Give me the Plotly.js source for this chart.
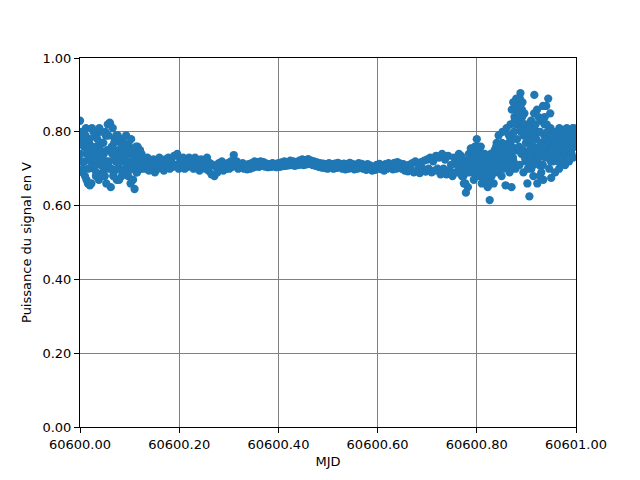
<!DOCTYPE html>
<html>
<head>
<meta charset="utf-8">
<script src="https://cdn.plot.ly/plotly-3.0.1.min.js"></script>
<style>html,body{margin:0;padding:0;background:#fff;}#chart{width:640px;height:480px;}</style>
</head>
<body>
<div id="chart"></div>
<script>
// Segment sampling grids (MJD start, step) and read-off signal power values (V)
const segLeftStart = 60600.000, segLeftStep = 0.002;
const segLeftValues = [0.83,0.72,0.78,0.70,0.76,0.68,0.81,0.74,0.66,0.77,0.655,0.72,0.81,0.75,0.70,0.79,0.68,0.76,0.73,0.67,0.80,0.71,0.77,0.69,0.74,0.68,0.79,0.72,0.82,0.70,0.825,0.65,0.76,0.81,0.69,0.78,0.72,0.67,0.79,0.74,0.70,0.77,0.68,0.75,0.72,0.76,0.70,0.74,0.69,0.765,0.71,0.66,0.74,0.70,0.75,0.645,0.73,0.69,0.76,0.71,0.73,0.70,0.74,0.71,0.72];
const segLeft2Start = 60600.001, segLeft2Step = 0.002;
const segLeft2Values = [0.74,0.80,0.69,0.77,0.72,0.79,0.67,0.75,0.70,0.78,0.73,0.66,0.76,0.80,0.71,0.74,0.69,0.78,0.72,0.81,0.75,0.68,0.73,0.77,0.71,0.80,0.66,0.75,0.79,0.72,0.82,0.70,0.74,0.68,0.77,0.73,0.79,0.70,0.75,0.67,0.78,0.72,0.74,0.69,0.77,0.73,0.79,0.71,0.68,0.75,0.72,0.78,0.70,0.67,0.74,0.71,0.76,0.69,0.73,0.70,0.75,0.72,0.70,0.73];

const segMidStart = 60600.130, segMidStep = 0.003;
const segMidValues = [
0.72,0.70,0.73,0.695,0.715,0.705,0.725,0.69,0.72,0.70,
0.73,0.705,0.72,0.695,0.725,0.71,0.73,0.70,0.72,0.705,
0.735,0.71,0.74,0.70,0.725,0.715,0.73,0.70,0.72,0.705,
0.73,0.71,0.725,0.70,0.73,0.71,0.72,0.695,0.725,0.705,
0.72,0.70,0.73,0.695,0.715,0.685,0.71,0.68,0.705,0.69,
0.715,0.70,0.72,0.695,0.71,0.70,0.715,0.70,0.72,0.705,
0.737,0.715,0.72,0.70,0.71,0.705,0.715,0.70,0.71,0.698,
0.712,0.70,0.715,0.703,0.72,0.706,0.718,0.705,0.72,0.708,
0.718,0.706,0.714,0.704,0.712,0.705,0.715,0.706,0.713,0.704,
0.715,0.705,0.717,0.707,0.72,0.708,0.718,0.709,0.722,0.71,
0.72,0.708,0.718,0.71,0.722,0.711,0.725,0.71,0.723,0.712,
0.726,0.713,0.722,0.71,0.72,0.708,0.717,0.705,0.715,0.703,
0.714,0.702,0.712,0.70,0.715,0.703,0.712,0.70,0.714,0.702,
0.716,0.704,0.712,0.70,0.714,0.698,0.71,0.70,0.716,0.703,
0.712,0.698,0.71,0.70,0.715,0.702,0.713,0.70,0.71,0.697,
0.712,0.699,0.708,0.695,0.705,0.697,0.71,0.70,0.713,0.699,
0.708,0.695,0.712,0.70,0.715,0.702,0.71,0.698,0.716,0.70,
0.718,0.703,0.714,0.70,0.712,0.695,0.708,0.693,0.71,0.697,
0.715,0.69,0.72,0.695,0.712,0.688,0.718,0.70,0.722,0.692,
0.725,0.70,0.73,0.69,0.72,0.695,0.735,0.70,0.73,0.685,
0.74,0.70,0.725,0.685,0.735,0.695,0.71,0.68,0.73,0.69];

const segRightStart = 60600.760, segRightStep = 0.002;
const segRightValues = [
0.72,0.69,0.74,0.70,0.735,0.68,0.725,0.66,0.70,0.635,
0.71,0.65,0.74,0.69,0.755,0.70,0.73,0.67,0.76,0.72,
0.78,0.70,0.745,0.68,0.76,0.66,0.72,0.695,0.74,0.67,
0.725,0.65,0.70,0.615,0.74,0.68,0.72,0.66,0.75,0.70,
0.77,0.69,0.79,0.71,0.76,0.68,0.80,0.72,0.75,0.655,
0.81,0.73,0.77,0.69,0.82,0.65,0.78,0.72,0.84,0.70,
0.86,0.75,0.87,0.71,0.905,0.74,0.88,0.69,0.85,0.72,
0.80,0.66,0.77,0.625,0.82,0.70,0.81,0.68,0.90,0.73,
0.78,0.66,0.80,0.71,0.76,0.69,0.83,0.67,0.79,0.73,
0.87,0.75,0.89,0.70,0.85,0.675,0.80,0.72,0.77,0.69,
0.79,0.73,0.77,0.70,0.80,0.74,0.76,0.72,0.78,0.71,
0.79,0.74,0.77,0.72,0.80,0.75,0.78,0.73,0.81,0.76,0.80];
const segRight2Start = 60600.761, segRight2Step = 0.002;
const segRight2Values = [
0.71,0.73,0.70,0.72,0.69,0.715,0.68,0.70,0.66,0.72,
0.69,0.72,0.70,0.73,0.71,0.745,0.69,0.74,0.70,0.75,
0.72,0.76,0.70,0.73,0.69,0.71,0.74,0.68,0.72,0.70,
0.68,0.71,0.66,0.72,0.70,0.74,0.69,0.73,0.71,0.76,
0.73,0.75,0.70,0.74,0.72,0.77,0.70,0.76,0.73,0.71,
0.75,0.71,0.79,0.74,0.70,0.76,0.73,0.80,0.75,0.82,
0.78,0.83,0.76,0.89,0.80,0.86,0.75,0.82,0.73,0.77,
0.74,0.70,0.72,0.75,0.73,0.78,0.71,0.76,0.80,0.74,
0.72,0.75,0.73,0.68,0.77,0.74,0.71,0.76,0.84,0.78,
0.82,0.78,0.74,0.80,0.72,0.76,0.73,0.78,0.74,0.75,
0.75,0.76,0.72,0.77,0.74,0.78,0.73,0.75,0.76,0.74,
0.76,0.78,0.75,0.79,0.77,0.74,0.78,0.76,0.79,0.77];
const segRight3Start = 60600.8705, segRight3Step = 0.003;
const segRight3Values = [0.86,0.88,0.83,0.89,0.85,0.87,0.81,0.84,0.79,0.82,0.80,0.78,0.81,0.83,0.79,0.85,0.82,0.86,0.84,0.80,0.83,0.87,0.82,0.78,0.80,0.77,0.81,0.79,0.76,0.78,0.80,0.79,0.81,0.78,0.80,0.77,0.79,0.81,0.78,0.80,0.79,0.81,0.80];

const xTickVals = [60600.0, 60600.2, 60600.4, 60600.6, 60600.8, 60601.0];
const yTickVals = [0.0, 0.2, 0.4, 0.6, 0.8, 1.0];

function expand(start, step, vals, xs, ys) {
  vals.forEach((v, i) => { xs.push(+(start + i * step).toFixed(4)); ys.push(v); });
}
const mjd = [], power = [];
expand(segLeftStart, segLeftStep, segLeftValues, mjd, power);
expand(segLeft2Start, segLeft2Step, segLeft2Values, mjd, power);
expand(segMidStart, segMidStep, segMidValues, mjd, power);
expand(segRightStart, segRightStep, segRightValues, mjd, power);
expand(segRight2Start, segRight2Step, segRight2Values, mjd, power);
expand(segRight3Start, segRight3Step, segRight3Values, mjd, power);

const font = {family: 'DejaVu Sans, sans-serif', size: 13, color: '#000'};
const trace = {
  x: mjd, y: power, type: 'scatter', mode: 'markers',
  marker: {color: '#1f77b4', size: 8.3, line: {width: 0}},
  cliponaxis: true, hoverinfo: 'skip'
};
const axisCommon = {
  showline: true, linecolor: '#000', linewidth: 1, mirror: true,
  ticks: 'outside', ticklen: 5, tickwidth: 1, tickcolor: '#000',
  showgrid: true, gridcolor: '#808080', gridwidth: 1, zeroline: false,
  tickformat: '.2f', tickfont: font
};
const layout = {
  width: 640, height: 480,
  margin: {l: 80, r: 64, t: 58, b: 53},
  paper_bgcolor: '#fff', plot_bgcolor: '#fff',
  showlegend: false, font: font,
  xaxis: Object.assign({}, axisCommon, {
    range: [60600, 60601], tickvals: xTickVals,
    title: {text: 'MJD', font: font, standoff: 6}
  }),
  yaxis: Object.assign({}, axisCommon, {
    range: [0, 1], tickvals: yTickVals,
    title: {text: 'Puissance du signal en V', font: font, standoff: 7}
  })
};
Plotly.newPlot('chart', [trace], layout, {staticPlot: true, displayModeBar: false});
</script>
</body>
</html>
